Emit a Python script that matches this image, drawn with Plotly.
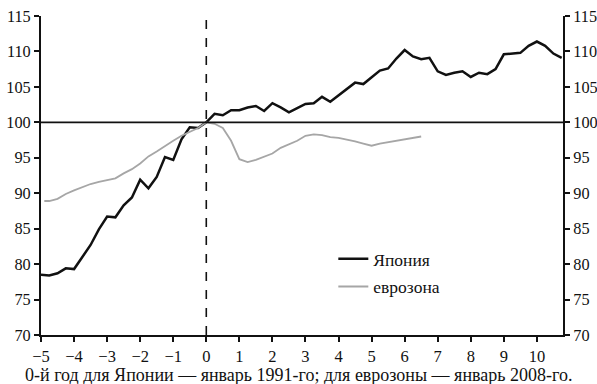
import plotly.graph_objects as go

# Quarterly years relative to year 0
japan_x = [i * 0.25 - 5 for i in range(64)]
japan_y = [78.5, 78.4, 78.7, 79.4, 79.3, 81.0, 82.7, 84.9, 86.7, 86.6,
           88.3, 89.4, 91.9, 90.7, 92.3, 95.1, 94.7, 97.6, 99.3, 99.2,
           100.0,
           101.2, 101.0, 101.7, 101.7, 102.1, 102.3, 101.6, 102.7, 102.1, 101.4,
           102.0, 102.6, 102.7, 103.6, 102.9, 103.8, 104.6, 105.6, 105.4, 106.3,
           107.3, 107.6, 109.0, 110.2, 109.3, 108.9, 109.1, 107.2, 106.7, 107.0,
           107.2, 106.4, 107.0, 106.8, 107.5, 109.6, 109.7, 109.8, 110.8, 111.4,
           110.8, 109.7, 109.1]

euro_x = [-4.9] + [i * 0.25 - 4.75 for i in range(46)]
euro_y = [88.9, 88.9, 89.2, 89.9, 90.4, 90.9, 91.3, 91.6, 91.8, 92.1,
          92.8, 93.4, 94.2, 95.2, 95.9, 96.7, 97.4, 98.1, 98.7, 99.2,
          100.0,
          99.8, 99.2, 97.4, 94.8, 94.4, 94.7, 95.1, 95.6, 96.4, 96.9,
          97.4, 98.1, 98.3, 98.2, 97.9, 97.8, 97.6, 97.3, 97.0, 96.7,
          97.0, 97.2, 97.4, 97.7, 97.8, 98.0]

x_ticks = list(range(-5, 11))
y_ticks = list(range(70, 116, 5))
caption = "0-й год для Японии — январь 1991-го; для еврозоны — январь 2008-го."

FONT = "Liberation Serif"

fig = go.Figure()
fig.add_trace(go.Scatter(x=japan_x, y=japan_y, mode="lines", name="Япония",
                         line=dict(color="#111111", width=2.5),
                         legendgroup="a"))
fig.add_trace(go.Scatter(x=euro_x, y=euro_y, mode="lines", name="еврозона",
                         line=dict(color="#a6a6a6", width=1.8),
                         legendgroup="b"))
# invisible trace for right-hand axis
fig.add_trace(go.Scatter(x=[None], y=[None], yaxis="y2", showlegend=False,
                         hoverinfo="skip"))

# reference lines
fig.add_shape(type="line", xref="paper", x0=0, x1=1, yref="y", y0=100, y1=100,
              line=dict(color="#111111", width=1.8))
fig.add_shape(type="line", xref="x", x0=0, x1=0, yref="y", y0=70, y1=114.6,
              line=dict(color="#111111", width=1.6, dash="dash"))

axis_common = dict(showgrid=False, zeroline=False, showline=True,
                   linecolor="#111111", linewidth=2, ticks="outside",
                   ticklen=5, tickwidth=1.5, tickcolor="#111111",
                   ticklabeloverflow="allow", automargin=False)
xfont = dict(family=FONT, size=16.5, color="#111111")
yfont = dict(family=FONT, size=16.3, color="#111111")

fig.update_layout(
    width=597, height=384,
    margin=dict(l=41, r=34, t=16, b=49),
    paper_bgcolor="white", plot_bgcolor="white",
    font=dict(family=FONT, size=17, color="#111111"),
    xaxis=dict(range=[-5, 10.79], tickvals=x_ticks, tickfont=xfont,
               **axis_common),
    yaxis=dict(range=[70, 115], tickvals=y_ticks, side="left",
               tickfont=yfont, **axis_common),
    yaxis2=dict(range=[70, 115], tickvals=y_ticks, side="right",
                overlaying="y", tickfont=yfont, **axis_common),
    legend=dict(x=0.56, y=0.295, xanchor="left", yanchor="top",
                bgcolor="rgba(0,0,0,0)", traceorder="grouped",
                tracegroupgap=2, itemwidth=30,
                font=dict(family=FONT, size=17.5, color="#111111")),
    showlegend=True,
    annotations=[dict(text=caption, xref="paper", yref="paper",
                      x=0.494, y=0, xanchor="center", yanchor="middle",
                      yshift=-39.5, showarrow=False,
                      font=dict(family=FONT, size=18, color="#111111"))],
)

# remove the browser's default 8px body margin so the figure fills the window
fig.write_html(
    "out.html",
    config={"displayModeBar": False},
    post_script="document.body.style.margin='0';"
                "document.body.style.overflow='hidden';",
)
